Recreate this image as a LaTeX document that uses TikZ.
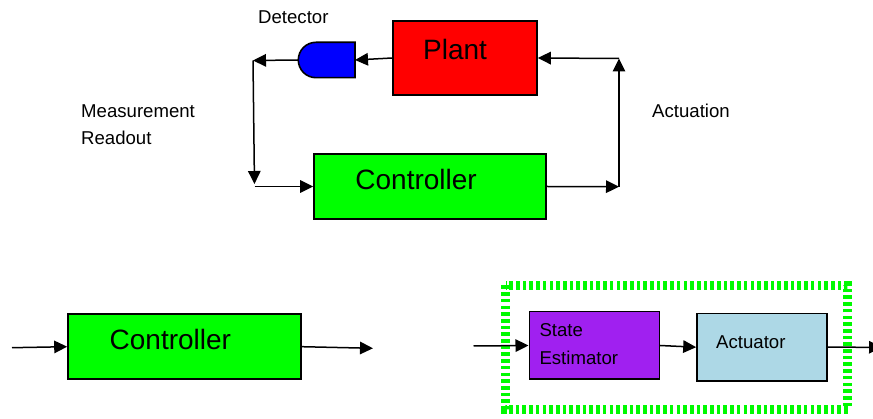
\documentclass[tikz,border=0pt]{standalone}
\usepackage{fontspec}
\setmainfont{Liberation Sans}
\usetikzlibrary{arrows.meta}
\tikzset{
  box/.style={draw=black, line width=1.6pt, rectangle, inner sep=0pt},
  lbl/.style={inner sep=0pt, anchor=base west, font=\fontsize{18.6}{22}\selectfont},
  big/.style={inner sep=0pt, anchor=base west, font=\fontsize{28}{33}\selectfont},
  arr/.style={draw=black, line width=1.5pt, -{Triangle[length=13pt,width=12.5pt]}},
  grp/.style={draw={rgb,255:red,0;green,250;blue,0}, line width=8.5pt, dash pattern=on 3.6pt off 3.1pt}
}
\begin{document}
\begin{tikzpicture}[x=1pt,y=-1pt]
\useasboundingbox (0,0) rectangle (873,419);
% top loop
\node[box, fill={rgb,255:red,255;green,0;blue,0}, minimum width=144pt, minimum height=74pt] (plant) at (465,58) {};
\node[big] (plantt) at (423,59.3) {Plant};
\node[box, fill={rgb,255:red,0;green,255;blue,0}, minimum width=232pt, minimum height=65pt] (ctrl) at (430,186.5) {};
\node[big] (ctrlt) at (355.2,189.3) {Controller};
% detector
\coordinate (detR) at (355,60);
\coordinate (detL) at (298.3,60);
\draw[line width=1.6pt, fill={rgb,255:red,0;green,0;blue,255}] (355,42.3) -- (316,42.3) arc (-90:-270:17.7) -- (355,77.7) -- cycle;
\node[lbl] (dett) at (258,23.3) {Detector};
\node[lbl] (meas) at (81,117.3) {Measurement};
\node[lbl] (read) at (81,144.3) {Readout};
\node[lbl] (actt) at (652,117.3) {Actuation};
\coordinate (c1) at (253,60.5);
\coordinate (c2) at (254.5,186.5);
\coordinate (c3) at (619,186.7);
\coordinate (c4) at (619,58.5);
\draw[arr] (plant.west) -- (detR);
\draw[arr] (detL) -- (c1);
\draw[arr, shorten >=2.5pt] (c1) -- (c2);
\draw[arr] (c2) -- (ctrl.west);
\draw[arr] (ctrl.east) -- (c3);
\draw[arr] (c3) -- (c4);
\draw[arr] (c4) -- (plant.east);
% bottom left
\node[box, fill={rgb,255:red,0;green,255;blue,0}, minimum width=233pt, minimum height=65pt] (ctrlb) at (184.5,346.7) {};
\node[big] (ctrlbt) at (109.5,350) {Controller};
\coordinate (in1) at (12,347.7);
\coordinate (out1) at (373,348.3);
\draw[arr] (in1) -- (ctrlb.west);
\draw[arr] (ctrlb.east) -- (out1);
% bottom right
\draw[grp] (505.5,285.5) rectangle (847.7,409.3);
\node[box, fill={rgb,255:red,160;green,32;blue,240}, minimum width=130pt, minimum height=67.6pt] (se) at (594.3,345.5) {};
\node[lbl] (set1) at (539.3,336.7) {State};
\node[lbl] (set2) at (539.3,364.3) {Estimator};
\node[box, fill={rgb,255:red,173;green,216;blue,230}, minimum width=130pt, minimum height=67.7pt] (act) at (762,347.2) {};
\node[lbl] (actl) at (716,348.3) {Actuator};
\coordinate (in2) at (473.5,346);
\coordinate (out2) at (882,347.3);
\draw[arr] (in2) -- (se.west);
\draw[arr] (se.east) -- (act.west);
\draw[arr] (act.east) -- (out2);
\end{tikzpicture}
\end{document}
